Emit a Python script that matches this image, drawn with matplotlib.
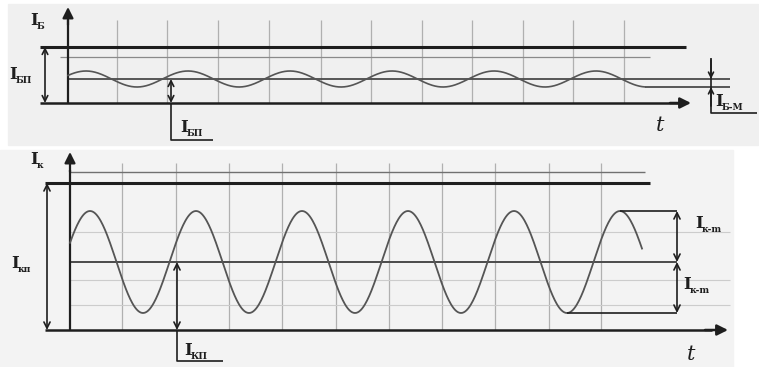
import numpy as np
import matplotlib.pyplot as plt
from matplotlib.patches import Rectangle

# ==========================
# DATA (pixel units of the sketch, y grows downward)
# ==========================
# top panel: base current I_Б
TOP_AXIS_Y = 103          # t axis
TOP_Q = 79                # quiescent level I_БП
TOP_AMP = 8               # amplitude I_Б-М
TOP_PERIOD = 102
TOP_RISE = 60.5           # rising zero crossing
TOP_T = (68, 645)
TOP_MAX = 47              # thick upper line
TOP_GRID_X = [117, 167, 218, 269, 321, 371, 422, 472, 523, 573, 624]

# bottom panel: collector current I_к
BOT_AXIS_Y = 330
BOT_Q = 262
BOT_AMP = 51
BOT_PERIOD = 106
BOT_RISE = 63.5
BOT_T = (70, 642)
BOT_MAX = 183
BOT_GRID_X = [122, 176, 229, 282, 336, 389, 442, 495, 549, 601]
BOT_GRID_Y = [232, 280, 305]

DARK = "#1e1e1e"
MID = "#4a4a4a"
GRID = "#b0b0b0"

fig = plt.figure(figsize=(7.59, 3.67), dpi=100)
fig.patch.set_facecolor("white")
ax = fig.add_axes([0, 0, 1, 1])
ax.set_xlim(0, 759)
ax.set_ylim(367, 0)
ax.axis("off")

# scanned paper backgrounds
ax.add_patch(Rectangle((8, 4), 750, 141, color="#f0f0f0", zorder=0))
ax.add_patch(Rectangle((0, 150), 733, 217, color="#f3f3f3", zorder=0))


def line(x, y, lw=1.2, c=DARK, z=3):
    ax.plot(x, y, color=c, lw=lw, zorder=z, solid_capstyle="butt")


def arrow(start, tip, style="-|>", lw=1.2, ms=14, c=DARK):
    ax.annotate("", xy=tip, xytext=start,
                arrowprops=dict(arrowstyle=style, color=c, lw=lw,
                                mutation_scale=ms, shrinkA=0, shrinkB=0),
                zorder=4)


def label(x, y, sub, size=12):
    ax.text(x, y, "I", fontsize=size, fontweight="bold", family="DejaVu Serif",
            ha="left", va="baseline", color=DARK)
    ax.text(x + 7, y + 4, sub, fontsize=size * 0.55, fontweight="bold",
            family="DejaVu Serif", ha="left", va="baseline", color=DARK)


# ==========================
# TOP PANEL
# ==========================
for gx in TOP_GRID_X:
    line([gx, gx], [20, TOP_AXIS_Y], lw=0.9, c=GRID, z=1)
line([60, 650], [57, 57], lw=0.9, c="#8a8a8a", z=1)

line([40, 686], [TOP_MAX, TOP_MAX], lw=2.2)
line([68, 730], [TOP_Q, TOP_Q], lw=1.3, c=MID)
line([645, 730], [TOP_Q + TOP_AMP, TOP_Q + TOP_AMP], lw=1.3, c=MID)
line([40, 680], [TOP_AXIS_Y, TOP_AXIS_Y], lw=1.8)
arrow((670, TOP_AXIS_Y), (691, TOP_AXIS_Y), lw=1.8, ms=16)
line([68, 68], [TOP_AXIS_Y, 20], lw=1.6)
arrow((68, 25), (68, 7), lw=1.6, ms=16)

t = np.linspace(*TOP_T, 600)
ax.plot(t, TOP_Q - TOP_AMP * np.sin(2 * np.pi * (t - TOP_RISE) / TOP_PERIOD),
        color="#555555", lw=1.2, zorder=3)

arrow((45, TOP_AXIS_Y), (45, TOP_MAX), style="<->", ms=10)
label(9, 79, "БП")
label(30, 25, "Б")

arrow((171, TOP_AXIS_Y), (171, TOP_Q), style="<->", ms=10)
line([171, 171, 213], [TOP_AXIS_Y, 140, 140], lw=1.2)
label(180, 132, "БП")

line([711, 711, 757], [58, 113, 113], lw=1.2)
arrow((711, 60), (711, TOP_Q), style="->", ms=9)
arrow((711, 106), (711, TOP_Q + TOP_AMP), style="->", ms=9)
label(715, 106, "Б-М")
ax.text(656, 131, "t", fontsize=15, style="italic", family="DejaVu Serif", color=DARK)

# ==========================
# BOTTOM PANEL
# ==========================
for gx in BOT_GRID_X:
    line([gx, gx], [163, BOT_AXIS_Y], lw=0.9, c=GRID, z=1)
for gy in BOT_GRID_Y:
    line([70, 730], [gy, gy], lw=0.8, c="#cccccc", z=1)
line([70, 645], [172, 172], lw=1.0, c="#707070", z=1)

line([45, 650], [BOT_MAX, BOT_MAX], lw=2.2)
line([70, 677], [BOT_Q, BOT_Q], lw=1.4, c=MID)
line([45, 712], [BOT_AXIS_Y, BOT_AXIS_Y], lw=1.8)
arrow((705, BOT_AXIS_Y), (728, BOT_AXIS_Y), lw=1.8, ms=16)
line([70, 70], [BOT_AXIS_Y, 170], lw=1.6)
arrow((70, 172), (70, 152), lw=1.6, ms=16)

t = np.linspace(*BOT_T, 800)
ax.plot(t, BOT_Q - BOT_AMP * np.sin(2 * np.pi * (t - BOT_RISE) / BOT_PERIOD),
        color="#555555", lw=1.3, zorder=3)

peak_x = BOT_RISE + BOT_PERIOD * 5.25
trough_x = BOT_RISE + BOT_PERIOD * 4.75
line([peak_x, 677], [BOT_Q - BOT_AMP, BOT_Q - BOT_AMP], lw=1.2)
line([trough_x, 677], [BOT_Q + BOT_AMP, BOT_Q + BOT_AMP], lw=1.2)
arrow((677, BOT_Q), (677, BOT_Q - BOT_AMP), style="<->", ms=11)
arrow((677, BOT_Q), (677, BOT_Q + BOT_AMP), style="<->", ms=11)
label(695, 228, "к-m")
label(683, 289, "к-m")

arrow((47, BOT_AXIS_Y), (47, BOT_MAX), style="<->", ms=11)
label(11, 268, "кп")
label(30, 164, "к")

arrow((177, BOT_AXIS_Y), (177, BOT_Q), style="<->", ms=11)
line([177, 177, 223], [BOT_AXIS_Y, 361, 361], lw=1.2)
label(184, 355, "КП")
ax.text(687, 360, "t", fontsize=15, style="italic", family="DejaVu Serif", color=DARK)

fig.savefig("out.png", dpi=100, facecolor=fig.get_facecolor())
